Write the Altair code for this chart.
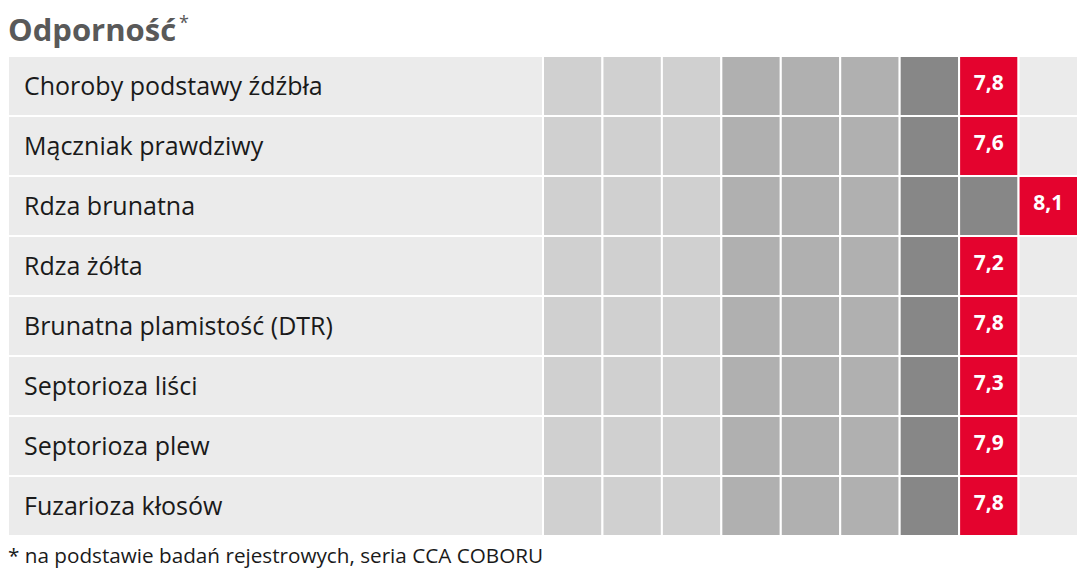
import math
import altair as alt
import pandas as pd

categories = [
    "Choroby podstawy źdźbła",
    "Mączniak prawdziwy",
    "Rdza brunatna",
    "Rdza żółta",
    "Brunatna plamistość (DTR)",
    "Septorioza liści",
    "Septorioza plew",
    "Fuzarioza kłosów",
]
values = [7.8, 7.6, 8.1, 7.2, 7.8, 7.3, 7.9, 7.8]
value_labels = ["7,8", "7,6", "8,1", "7,2", "7,8", "7,3", "7,9", "7,8"]
columns = list(range(1, 10))
title_text = "Odporność"
title_mark = "*"
footnote_text = "* na podstawie badań rejestrowych, seria CCA COBORU"

shade_names = ["niska", "średnia", "wysoka", "ocena", "brak"]
shade_colors = ["#d0d0d0", "#b0b0b0", "#878787", "#e4032e", "#ebebeb"]

W, H = 1070, 560
label_px = 535
cell_px = (W - label_px) / 9
label_units = label_px / cell_px

cells = []
for cat, v in zip(categories, values):
    k = math.ceil(v)
    for c in columns:
        if c == k:
            s = "ocena"
        elif c > k:
            s = "brak"
        elif c <= 3:
            s = "niska"
        elif c <= 6:
            s = "średnia"
        else:
            s = "wysoka"
        cells.append({"category": cat, "x0": c - 1, "x1": c, "shade": s})
cells_df = pd.DataFrame(cells)

labels_df = pd.DataFrame({"category": categories, "x0": -label_units, "x1": 0.0})
vals_df = pd.DataFrame({
    "category": categories,
    "xc": [math.ceil(v) - 0.5 for v in values],
    "label": value_labels,
})

xs = alt.Scale(domain=[-label_units, 9], nice=False, zero=False)
ys = alt.Scale(domain=categories, range=[48, 528], paddingInner=0, paddingOuter=0)
Y = alt.Y("category:N", sort=categories, scale=ys, axis=None)

bg = alt.Chart(labels_df).mark_rect(color="#ebebeb", stroke="white", strokeWidth=2).encode(
    x=alt.X("x0:Q", scale=xs, axis=None), x2="x1:Q", y=Y
)
grid = alt.Chart(cells_df).mark_rect(stroke="white", strokeWidth=2).encode(
    x=alt.X("x0:Q", scale=xs, axis=None), x2="x1:Q", y=Y,
    color=alt.Color("shade:N", scale=alt.Scale(domain=shade_names, range=shade_colors), legend=None),
)
names = alt.Chart(labels_df).mark_text(
    align="left", baseline="middle", font="Open Sans", fontSize=25, color="#1a1a1a", dy=1
).encode(x=alt.value(16), y=Y, text="category:N")
nums = alt.Chart(vals_df).mark_text(
    align="center", baseline="middle", font="Open Sans", fontSize=21, fontWeight="bold", color="white", dy=-2
).encode(x=alt.X("xc:Q", scale=xs, axis=None), y=Y, text="label:N")

title = alt.Chart(pd.DataFrame({"t": [title_text]})).mark_text(
    align="left", baseline="alphabetic", font="Open Sans", fontSize=31, fontWeight="bold", color="#595959"
).encode(x=alt.value(0), y=alt.value(33), text="t:N")
star = alt.Chart(pd.DataFrame({"t": [title_mark]})).mark_text(
    align="left", baseline="alphabetic", font="Open Sans", fontSize=18, color="#595959"
).encode(x=alt.value(171), y=alt.value(21), text="t:N")
foot = alt.Chart(pd.DataFrame({"t": [footnote_text]})).mark_text(
    align="left", baseline="alphabetic", font="Open Sans", fontSize=20.7, color="#1a1a1a"
).encode(x=alt.value(0), y=alt.value(555), text="t:N")

chart = alt.layer(bg, grid, names, nums, title, star, foot).properties(
    width=W, height=H, autosize=alt.AutoSizeParams(type="none"), padding=0
).configure_view(strokeWidth=0)

chart.save("out.html", embed_options={"renderer": "svg", "actions": False})
